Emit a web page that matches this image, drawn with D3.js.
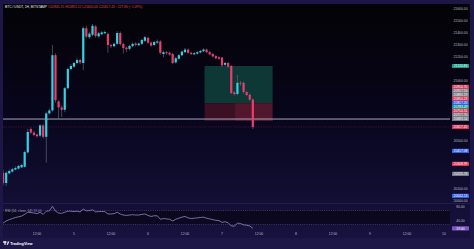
<!DOCTYPE html>
<html><head><meta charset="utf-8">
<script src="https://cdn.jsdelivr.net/npm/d3@7"></script>
<style>
html,body{margin:0;padding:0;background:#1c1747;overflow:hidden}
svg{display:block}
text{font-family:"Liberation Sans",Arial,sans-serif}
</style>
</head><body>
<svg id="c" width="474" height="249"></svg>
<script>
// ---------- DATA ----------
const startTime = "2022-07-04T01:00:00Z"; // first hourly candle
const opens = [20235,20150,20230,20245,20262,20270,20280,20285,20405,20600,20570,20555,20545,20630,20535,20730,20755,21215,20830,20780,20760,20940,21100,21120,21150,21175,21150,21440,21365,21385,21455,21372,21390,21398,21392,21300,21290,21310,21400,21308,21278,21268,21290,21312,21298,21310,21335,21360,21320,21300,21320,21330,21225,21240,21235,21225,21155,21185,21215,21240,21262,21235,21222,21228,21238,21248,21262,21240,21225,21208,21198,21195,21135,21150,21125,20905,20892,20985,20985,20908,20885,20845];
const highs = [20260,20245,20262,20275,20290,20300,20310,20420,20600,20612,20585,20560,20640,20640,20745,20770,21300,21230,20840,20795,20950,21110,21140,21160,21190,21185,21455,21460,21410,21475,21465,21410,21418,21420,21405,21310,21320,21415,21412,21318,21285,21300,21322,21325,21320,21350,21375,21370,21330,21335,21345,21340,21252,21250,21245,21235,21200,21225,21255,21275,21272,21245,21240,21250,21260,21272,21270,21250,21235,21215,21205,21200,21160,21158,21135,20915,21050,21000,20995,20915,20895,20855];
const lows = [20130,20125,20222,20238,20255,20262,20275,20278,20395,20560,20540,20530,20530,20520,20320,20720,20745,20820,20680,20700,20740,20930,21090,21110,21140,21140,21090,21355,21350,21375,21360,21360,21380,21390,21235,21275,21280,21300,21295,21230,21240,21255,21280,21290,21290,21300,21325,21310,21285,21290,21310,21220,21200,21220,21210,21140,21145,21180,21205,21235,21228,21215,21215,21220,21230,21240,21232,21215,21195,21180,21178,21120,21125,21110,20890,20880,20880,20960,20895,20875,20835,20600];
const closes = [20150,20235,20250,20265,20275,20292,20300,20408,20575,20570,20550,20540,20630,20535,20730,20755,21215,20840,20780,20760,20940,21100,21125,21150,21175,21155,21440,21370,21395,21460,21375,21398,21405,21408,21300,21290,21310,21400,21308,21275,21265,21292,21310,21300,21312,21342,21365,21320,21295,21325,21330,21235,21240,21232,21220,21150,21190,21215,21245,21262,21235,21225,21232,21240,21250,21262,21240,21222,21205,21190,21185,21130,21150,21120,20900,20890,20985,20978,20908,20883,20845,20617];
const rsiValues = [34,40,44,47,50,52,54,59,65,64,63,61,65,59,68,69,82,68,63,62,65,68,68,67,68,66,74,69,70,72,66,67,67,67,60,60,61,65,60,57,56,57,58,57,57,59,60,56,53,55,55,45,47,46,45,40,45,48,51,53,49,47,48,49,50,51,48,46,44,42,41,36,38,35,26,25,34,33,29,28,26,19];

const priceTicks = [21600,21500,21400,21300,21200,21100,21000,20900,20800,20700,20600,20500,20400,20300,20200,20100,20000];
const rsiTicks = [80,40];
const rsiBands = [70,30];
const timeTicks = ["2022-07-04T12:00:00Z","2022-07-05T00:00:00Z","2022-07-05T12:00:00Z","2022-07-06T00:00:00Z","2022-07-06T12:00:00Z","2022-07-07T00:00:00Z","2022-07-07T12:00:00Z","2022-07-08T00:00:00Z","2022-07-08T12:00:00Z","2022-07-09T00:00:00Z","2022-07-09T12:00:00Z","2022-07-10T00:00:00Z"];

// position tool
const posStart = "2022-07-06T18:20:00Z", posEnd = "2022-07-07T16:25:00Z", posFill = "2022-07-07T04:15:00Z";
const posTarget = 21125, posEntry = 20815, posStop = 20667;
const hLinePrice = 20683;

// right-side price tags
const tagValues = [21124.86,20950.70,20917.53,20883.19,20850.23,20817.43,20783.49,20750.31,20717.70,20683.54,20617.45,20417.08,20308.99,20225.74,20042.13];
const tagKinds  = ["green","red","gray","gray","red","blue","green","red","gray","gray","red","blue","red","gray","blue"];

const titleMain = "BTC / USDT, 1H, BITSTAMP";
const titleOHLC = "O20845.31 H20855.12 L20600.00 C20617.45 \u2212227.86 (\u22121.09%)";
const rsiTitle = "RSI (14, close, 14)";

// ---------- LAYOUT ----------
const paneL = 3, paneR = 450, paneT = 4, mainB = 203, rsiT = 204, rsiB = 229, axisB = 238, axisR = 470;
const colors = {up:"#33d2e0", down:"#ec3c6e", wick:"#5e6575", green:"#179c86", red:"#e13454", gray:"#787b86", blue:"#2f62f2"};

const svg = d3.select("#c");
const defs = svg.append("defs");
const g = defs.append("linearGradient").attr("id","bg").attr("x1",0).attr("y1",0).attr("x2",0).attr("y2",1);
g.append("stop").attr("offset","0%").attr("stop-color","#040306");
g.append("stop").attr("offset","45%").attr("stop-color","#07051a");
g.append("stop").attr("offset","100%").attr("stop-color","#17123f");
defs.append("clipPath").attr("id","pane").append("rect").attr("x",paneL).attr("y",paneT).attr("width",paneR-paneL).attr("height",mainB-paneT);
defs.append("clipPath").attr("id","rsip").append("rect").attr("x",paneL).attr("y",rsiT).attr("width",paneR-paneL).attr("height",rsiB-rsiT);

svg.append("rect").attr("width",474).attr("height",249).attr("fill","#1c1747");
svg.append("rect").attr("x",paneL).attr("y",paneT).attr("width",axisR-paneL).attr("height",axisB-paneT).attr("fill","url(#bg)");

const parse = d3.isoParse;
const t0 = parse(startTime);
const times = opens.map((_, i) => d3.utcHour.offset(t0, i));
const x = d3.scaleUtc().domain([parse("2022-07-05T00:00:00Z"), parse("2022-07-10T00:00:00Z")]).range([74, 444]);
const y = d3.scaleLinear().domain([21600, 20000]).range([9, 201]);
const yr = d3.scaleLinear().domain([80, 40]).range([207, 221]);

const main = svg.append("g").attr("clip-path","url(#pane)");

// position tool
const px1 = x(parse(posStart)), px2 = x(parse(posEnd)), pxf = x(parse(posFill));
main.append("rect").attr("x",px1).attr("y",y(posTarget)).attr("width",px2-px1).attr("height",y(posEntry)-y(posTarget)).attr("fill","#0e3836");
main.append("rect").attr("x",px1).attr("y",y(posEntry)).attr("width",px2-px1).attr("height",y(posStop)-y(posEntry)).attr("fill","#3b1024");
main.append("rect").attr("x",pxf).attr("y",y(posEntry)).attr("width",px2-pxf).attr("height",y(posStop)-y(posEntry)).attr("fill","rgba(255,70,110,0.12)");

// horizontal lines
main.append("line").attr("x1",paneL).attr("x2",paneR).attr("y1",y(hLinePrice)).attr("y2",y(hLinePrice)).attr("stroke","#a8a8b2").attr("stroke-width",1);
main.append("line").attr("x1",paneL).attr("x2",paneR).attr("y1",y(closes[closes.length-1])).attr("y2",y(closes[closes.length-1])).attr("stroke","#b0204f").attr("stroke-opacity",0.55).attr("stroke-width",0.6).attr("stroke-dasharray","1.5,1");

// candles
const cg = main.append("g");
cg.selectAll("line.w").data(times).join("line").attr("class","w")
  .attr("x1",(d)=>x(d)).attr("x2",(d)=>x(d))
  .attr("y1",(d,i)=>y(highs[i])).attr("y2",(d,i)=>y(lows[i]))
  .attr("stroke",colors.wick).attr("stroke-width",0.7);
cg.selectAll("rect.b").data(times).join("rect").attr("class","b")
  .attr("x",(d)=>x(d)-1.1).attr("width",2.2)
  .attr("y",(d,i)=>y(Math.max(opens[i],closes[i])))
  .attr("height",(d,i)=>Math.max(0.8, Math.abs(y(opens[i])-y(closes[i]))))
  .attr("fill",(d,i)=>closes[i]>=opens[i]?colors.up:colors.down);

// pane separator
svg.append("line").attr("x1",paneL).attr("x2",axisR).attr("y1",mainB+0.5).attr("y2",mainB+0.5).attr("stroke","#231d4d").attr("stroke-width",1);

// RSI pane
const rg = svg.append("g").attr("clip-path","url(#rsip)");
rg.append("rect").attr("x",paneL).attr("y",yr(rsiBands[0])).attr("width",paneR-paneL).attr("height",yr(rsiBands[1])-yr(rsiBands[0])).attr("fill","rgba(3,2,10,0.55)");
rg.selectAll("line.band").data(rsiBands).join("line").attr("class","band")
  .attr("x1",paneL).attr("x2",paneR).attr("y1",d=>yr(d)).attr("y2",d=>yr(d))
  .attr("stroke","#5b5680").attr("stroke-width",0.6).attr("stroke-dasharray","1,1.2");
rg.append("path").datum(rsiValues).attr("fill","none").attr("stroke","#8f86c6").attr("stroke-width",0.8)
  .attr("d", d3.line().x((d,i)=>x(times[i])).y(d=>yr(d)));
svg.append("text").attr("x",5).attr("y",211.5).attr("font-size",3.3).attr("fill","#a9a8bb")
  .text(rsiTitle + "  ").append("tspan").attr("fill","#9b82e0").text(rsiValues[rsiValues.length-1].toFixed(2));

// price axis tick labels (skip those hidden by tags)
const tagYs = tagValues.map(v=>y(v));
svg.append("g").selectAll("text").data(priceTicks.filter(v=>tagYs.every(ty=>Math.abs(ty-y(v))>3.5))).join("text")
  .attr("x",460.5).attr("y",d=>y(d)+1.2).attr("text-anchor","middle").attr("font-size",3.4).attr("fill","#b8b8c4")
  .text(d=>d3.format(".2f")(d));

// tags
const tg = svg.append("g").selectAll("g").data(tagValues).join("g");
tg.append("rect").attr("x",452).attr("width",17).attr("y",d=>y(d)-2.1).attr("height",4.2).attr("rx",0.4)
  .attr("fill",(d,i)=>colors[tagKinds[i]]);
tg.append("text").attr("x",460.5).attr("y",d=>y(d)+1.2).attr("text-anchor","middle").attr("font-size",3.3).attr("fill","#ffffff")
  .text(d=>d3.format(".2f")(d));

// RSI axis
svg.append("g").selectAll("text").data(rsiTicks).join("text")
  .attr("x",460.5).attr("y",d=>yr(d)+1.2).attr("text-anchor","middle").attr("font-size",3.4).attr("fill","#b8b8c4")
  .text(d=>d3.format(".2f")(d));
const lastR = rsiValues[rsiValues.length-1];
svg.append("rect").attr("x",452).attr("width",17).attr("y",yr(lastR)-2.1).attr("height",4.2).attr("rx",0.4).attr("fill","#7e57c2");
svg.append("text").attr("x",460.5).attr("y",yr(lastR)+1.2).attr("text-anchor","middle").attr("font-size",3.3).attr("fill","#fff").text(lastR.toFixed(2));

// time axis
svg.append("g").selectAll("text").data(timeTicks.map(parse)).join("text")
  .attr("x",d=>x(d)).attr("y",234.8).attr("text-anchor","middle").attr("font-size",3.4).attr("fill","#b8b8c4")
  .text(d=>d.getUTCHours()===0 ? String(d.getUTCDate()) : d3.utcFormat("%H:%M")(d));

// title
const tt = svg.append("text").attr("x",5).attr("y",8).attr("font-size",3.3).attr("fill","#e8e8ee").text(titleMain + " ");
tt.append("tspan").attr("fill","#e03a55").text(titleOHLC);

// TradingView logo
const lg = svg.append("g").attr("fill","#ffffff");
lg.append("rect").attr("x",3).attr("y",241.4).attr("width",3.2).attr("height",1.2);
lg.append("rect").attr("x",4.4).attr("y",241.4).attr("width",1.2).attr("height",3.4);
lg.append("circle").attr("cx",7).attr("cy",242).attr("r",0.6);
lg.append("path").attr("d","M6.6,244.8 L8.2,241.4 L9.4,241.4 L7.8,244.8 Z");
svg.append("text").attr("x",10.2).attr("y",244.5).attr("font-size",3.8).attr("font-weight",600).attr("fill","#ffffff").text("TradingView");
</script>
</body></html>
